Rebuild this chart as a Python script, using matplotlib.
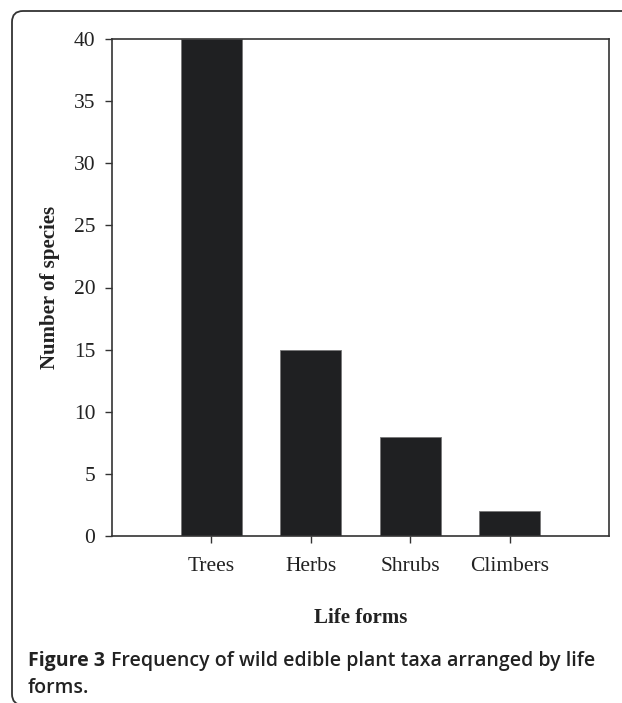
import matplotlib
matplotlib.use("Agg")
import matplotlib.pyplot as plt
from matplotlib.patches import FancyBboxPatch
from matplotlib.transforms import IdentityTransform

# data
life_forms = ["Trees", "Herbs", "Shrubs", "Climbers"]
n_species = [40, 15, 8, 2]
y_ticks = [0, 5, 10, 15, 20, 25, 30, 35, 40]

W, H, DPI = 622, 703, 100
fig = plt.figure(figsize=(W / DPI, H / DPI), dpi=DPI)

# open frame with rounded corners (cut at the right and bottom edges)
frame = FancyBboxPatch(
    (12, -2), 660, H - 9,
    boxstyle="round,pad=0,rounding_size=11",
    transform=IdentityTransform(),
    facecolor="none", edgecolor="#333333", linewidth=1.3,
)
fig.patches.append(frame)

ax = fig.add_axes([112 / W, 1 - 536 / H, (609 - 112) / W, (536 - 39) / H])

pos = list(range(1, len(life_forms) + 1))
ax.bar(pos, n_species, width=0.61, color="#1f2022", edgecolor="#777777", linewidth=0.6)

ax.set_xlim(0, 5)
ax.set_ylim(0, 40)
ax.set_xticks(pos)
ax.set_xticklabels(life_forms)
ax.set_yticks(y_ticks)

serif = "Liberation Serif"
for lab in ax.get_xticklabels() + ax.get_yticklabels():
    lab.set_fontfamily(serif)
    lab.set_fontsize(15.5)
    lab.set_color("#222222")

ax.tick_params(axis="y", direction="out", length=5, width=1, pad=7, colors="#333333", labelcolor="#222222")
ax.tick_params(axis="x", direction="out", length=5, width=1, pad=10, colors="#333333", labelcolor="#222222")
for s in ax.spines.values():
    s.set_color("#333333")
    s.set_linewidth(1.2)

ax.set_ylabel("Number of species", family=serif, fontsize=15, fontweight="bold", color="#222222", labelpad=10)
ax.set_xlabel("Life forms", family=serif, fontsize=15, fontweight="bold", color="#222222", labelpad=23)

# caption: bold lead-in followed by semibold text
cap_y1 = 1 - 666 / H
cap_size = 14.0
lead = fig.text(28 / W, cap_y1, "Figure 3", family="Open Sans", fontsize=cap_size, fontweight="bold",
                color="#222222", va="baseline")
fig.canvas.draw()
lead_end = lead.get_window_extent().x1
fig.text((lead_end + 6) / W, cap_y1, "Frequency of wild edible plant taxa arranged by life",
         family="Open Sans", fontsize=cap_size, fontweight="semibold", color="#222222", va="baseline")
fig.text(28 / W, 1 - 693 / H, "forms.", family="Open Sans", fontsize=cap_size, fontweight="semibold",
         color="#222222", va="baseline")

fig.savefig("out.png", dpi=DPI)
